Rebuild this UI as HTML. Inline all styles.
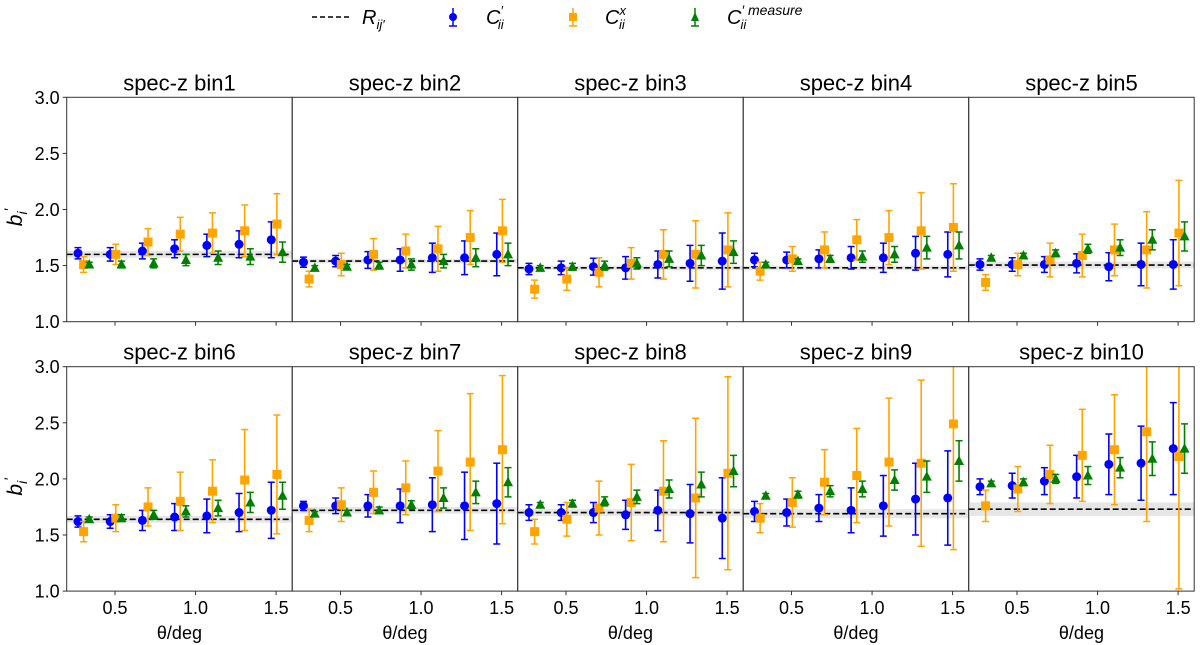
<!DOCTYPE html>
<html><head><meta charset="utf-8"><style>
html,body{margin:0;padding:0;background:#fff;}
svg{display:block;font-family:"Liberation Sans","DejaVu Sans",sans-serif;}
</style></head><body>
<svg id="chart" width="1200" height="645" viewBox="0 0 1200 645" xmlns="http://www.w3.org/2000/svg">
<g id="legend">
 <g>
  <line x1="312" y1="17" x2="349" y2="17" stroke="#000" stroke-width="1.5" stroke-dasharray="5,3"/>
  <text x="362" y="24" font-size="20" font-style="italic">R<tspan font-size="13" dy="5">ij′</tspan></text>
 </g>
 <g>
  <line x1="453" y1="8" x2="453" y2="26" stroke="blue" stroke-width="1.5"/><line x1="449" y1="26" x2="457" y2="26" stroke="blue" stroke-width="1.5"/>
  <circle cx="453" cy="17" r="4" fill="blue"/>
  <text x="486" y="24" font-size="20" font-style="italic">C<tspan font-size="13" dy="-9">′</tspan><tspan font-size="13" dx="-5" dy="14">ii</tspan></text>
 </g>
 <g>
  <line x1="573" y1="8" x2="573" y2="26" stroke="orange" stroke-width="1.5"/><line x1="569" y1="26" x2="577" y2="26" stroke="orange" stroke-width="1.5"/>
  <rect x="569" y="13" width="8" height="8" fill="orange"/>
  <text x="605" y="24" font-size="20" font-style="italic">C<tspan font-size="13" dy="-9">x</tspan><tspan font-size="13" dx="-7" dy="14">ii</tspan></text>
 </g>
 <g>
  <line x1="695" y1="8" x2="695" y2="26" stroke="green" stroke-width="1.5"/><line x1="691" y1="26" x2="699" y2="26" stroke="green" stroke-width="1.5"/>
  <polygon points="695,12 699,21 691,21" fill="green"/>
  <text x="727" y="24" font-size="20" font-style="italic">C<tspan font-size="14" dy="-9">′ measure</tspan><tspan font-size="13" dx="-62" dy="14">ii</tspan></text>
 </g>
</g>
<g id="panels"></g>
</svg>
<script>
const xBlue = [0.27,0.47,0.67,0.87,1.07,1.27,1.47];
const xOffOrange = 0.035;
const xOffGreen = 0.07;
const refVals = [1.60,1.54,1.48,1.48,1.505,1.64,1.72,1.70,1.69,1.73];
const refBand = [0.03,0.02,0.02,0.02,0.03,0.03,0.03,0.03,0.04,0.06];
const blueVals = [
 [1.61,1.60,1.63,1.65,1.68,1.69,1.73],[1.53,1.54,1.55,1.55,1.57,1.57,1.60],[1.47,1.48,1.49,1.48,1.51,1.52,1.54],
 [1.55,1.55,1.56,1.57,1.57,1.61,1.60],[1.51,1.51,1.51,1.52,1.49,1.51,1.51],[1.62,1.62,1.63,1.66,1.67,1.70,1.72],
 [1.76,1.76,1.76,1.76,1.77,1.76,1.78],[1.70,1.70,1.70,1.68,1.72,1.69,1.65],[1.71,1.70,1.74,1.72,1.76,1.82,1.83],
 [1.93,1.94,1.98,2.02,2.13,2.14,2.27]];
const blueErr = [
 [0.05,0.06,0.07,0.08,0.10,0.12,0.16],[0.045,0.05,0.075,0.1,0.13,0.15,0.19],[0.05,0.06,0.075,0.1,0.12,0.16,0.25],
 [0.06,0.07,0.08,0.1,0.13,0.15,0.2],[0.05,0.06,0.07,0.085,0.125,0.19,0.22],[0.05,0.06,0.09,0.12,0.15,0.17,0.25],
 [0.04,0.07,0.1,0.15,0.24,0.3,0.36],[0.07,0.07,0.09,0.13,0.18,0.26,0.36],[0.09,0.12,0.12,0.2,0.27,0.32,0.42],
 [0.07,0.11,0.12,0.19,0.27,0.33,0.41]];
const orangeVals = [
 [1.51,1.60,1.71,1.78,1.79,1.81,1.87],[1.38,1.51,1.60,1.63,1.65,1.75,1.81],[1.29,1.38,1.44,1.52,1.60,1.60,1.64],
 [1.45,1.56,1.64,1.73,1.75,1.81,1.84],[1.35,1.51,1.55,1.59,1.64,1.64,1.79],[1.53,1.65,1.75,1.80,1.89,1.99,2.04],
 [1.63,1.77,1.88,1.92,2.07,2.15,2.26],[1.53,1.64,1.74,1.79,1.89,1.83,2.05],[1.65,1.79,1.97,2.03,2.15,2.14,2.49],
 [1.76,1.91,2.04,2.21,2.26,2.42,2.20]];
const orangeErr = [
 [0.07,0.09,0.12,0.15,0.18,0.23,0.27],[0.07,0.1,0.14,0.15,0.2,0.24,0.28],[0.08,0.1,0.13,0.14,0.22,0.3,0.33],
 [0.08,0.11,0.16,0.18,0.24,0.34,0.39],[0.07,0.1,0.15,0.19,0.23,0.34,0.47],[0.09,0.12,0.17,0.26,0.28,0.45,0.53],
 [0.1,0.15,0.19,0.24,0.36,0.61,0.66],[0.11,0.15,0.24,0.34,0.45,0.71,0.86],[0.13,0.22,0.29,0.42,0.57,0.74,1.12],
 [0.14,0.2,0.26,0.41,0.49,0.8,1.18]];
const greenVals = [
 [1.51,1.51,1.52,1.55,1.57,1.58,1.62],[1.48,1.49,1.50,1.51,1.54,1.57,1.60],[1.48,1.49,1.50,1.52,1.56,1.59,1.62],
 [1.51,1.54,1.56,1.58,1.60,1.66,1.68],[1.57,1.59,1.61,1.65,1.66,1.73,1.76],[1.64,1.65,1.68,1.71,1.74,1.79,1.85],
 [1.69,1.70,1.72,1.77,1.83,1.88,1.97],[1.77,1.78,1.80,1.84,1.91,1.95,2.07],[1.85,1.86,1.89,1.91,1.99,2.02,2.16],
 [1.96,1.97,2.00,2.03,2.10,2.18,2.27]];
const greenErr = [
 [0.02,0.03,0.04,0.05,0.06,0.07,0.09],[0.02,0.02,0.03,0.05,0.06,0.08,0.1],[0.02,0.03,0.04,0.05,0.07,0.09,0.1],
 [0.02,0.02,0.03,0.05,0.07,0.1,0.12],[0.02,0.02,0.03,0.04,0.07,0.09,0.13],[0.02,0.03,0.04,0.05,0.07,0.09,0.12],
 [0.02,0.02,0.03,0.035,0.09,0.1,0.13],[0.02,0.03,0.04,0.06,0.08,0.11,0.14],[0.02,0.03,0.05,0.07,0.09,0.14,0.18],
 [0.02,0.03,0.04,0.08,0.09,0.15,0.22]];
const yTicks = [1.0,1.5,2.0,2.5,3.0];
const yTickLabels = ["1.0","1.5","2.0","2.5","3.0"];
const xTicks = [0.5,1.0,1.5];
const xTickLabels = ["0.5","1.0","1.5"];
const panelTitles = ["spec-z bin1","spec-z bin2","spec-z bin3","spec-z bin4","spec-z bin5","spec-z bin6","spec-z bin7","spec-z bin8","spec-z bin9","spec-z bin10"];

const NS="http://www.w3.org/2000/svg";
const root=document.getElementById('panels');
const left0=66.7, pw=225.5, ph=224.4, tops=[97.3,366.7];
const xmin=0.2,xmax=1.6,ymin=1.0,ymax=3.0;
function mk(tag,attrs,parent){const e=document.createElementNS(NS,tag);for(const k in attrs)e.setAttribute(k,attrs[k]);parent.appendChild(e);return e;}

for(let p=0;p<10;p++){
 const row=Math.floor(p/5), col=p%5;
 const L=left0+col*pw, T=tops[row];
 const X=v=>L+(v-xmin)/(xmax-xmin)*pw;
 const Y=v=>T+(ymax-v)/(ymax-ymin)*ph;
 const g=mk('g',{},root);
 
 
 const clipId='clip'+p;
 const cp=mk('clipPath',{id:clipId},g); mk('rect',{x:L,y:T,width:pw,height:ph},cp);
 const band=mk('rect',{x:L,y:Y(refVals[p]+refBand[p]),width:pw,height:Y(refVals[p]-refBand[p])-Y(refVals[p]+refBand[p]),fill:'#e6e6e6'},g);
 
 
 const rl=mk('line',{x1:L,x2:L+pw,y1:Y(refVals[p]),y2:Y(refVals[p]),stroke:'#000','stroke-width':1.6,'stroke-dasharray':'6,3'},g);
 
 
 const series=[['blue',blueVals[p],blueErr[p],0,'circle'],['orange',orangeVals[p],orangeErr[p],xOffOrange,'square'],['green',greenVals[p],greenErr[p],xOffGreen,'triangle']];
 const sg=mk('g',{'clip-path':'url(#'+clipId+')'},g);
 series.forEach(([c,vals,errs,off,shape])=>{
  vals.forEach((v,i)=>{
   const cx=X(xBlue[i]+off), cy=Y(v), y1=Y(v+errs[i]), y2=Y(v-errs[i]);
   const pg=mk('g',{},sg);
   
   
   mk('line',{x1:cx,x2:cx,y1:y1,y2:y2,stroke:c,'stroke-width':1.6},pg);
   mk('line',{x1:cx-3.5,x2:cx+3.5,y1:y1,y2:y1,stroke:c,'stroke-width':1.5},pg);
   mk('line',{x1:cx-3.5,x2:cx+3.5,y1:y2,y2:y2,stroke:c,'stroke-width':1.5},pg);
   if(shape==='circle') mk('circle',{cx:cx,cy:cy,r:4.5,fill:c},pg);
   else if(shape==='square') mk('rect',{x:cx-4.5,y:cy-4.5,width:9,height:9,fill:c},pg);
   else mk('polygon',{points:`${cx},${cy-5.5} ${cx+5},${cy+4} ${cx-5},${cy+4}`,fill:c},pg);
  });
 });
 const fr=mk('rect',{x:L,y:T,width:pw,height:ph,fill:'none',stroke:'#333','stroke-width':1},g);
 
 
 const tt=mk('text',{x:L+pw/2,y:T-7,'text-anchor':'middle','font-size':22},g);
 
 
 tt.textContent=panelTitles[p];
 xTicks.forEach((t,i)=>{
  mk('line',{x1:X(t),x2:X(t),y1:T+ph,y2:T+ph+4,stroke:'#333','stroke-width':1},g);
  if(row===1){
   const tl=mk('text',{x:X(t),y:T+ph+23,'text-anchor':'middle','font-size':18},g);
   
   
   tl.textContent=xTickLabels[i];
  }
 });
 if(row===1){
  const xl=mk('text',{x:L+pw/2,y:T+ph+48,'text-anchor':'middle','font-size':18},g);
  
  
  xl.textContent='θ/deg';
 }
 if(col===0){
  yTicks.forEach((t,i)=>{
   mk('line',{x1:L-4,x2:L,y1:Y(t),y2:Y(t),stroke:'#333','stroke-width':1},g);
   const yl=mk('text',{x:L-7,y:Y(t)+6.5,'text-anchor':'end','font-size':18},g);
   
   
   yl.textContent=yTickLabels[i];
  });
  const yt=mk('text',{x:0,y:0,'font-size':21,'font-style':'italic',transform:`translate(22,${T+ph/2+8}) rotate(-90)`,'text-anchor':'middle'},g);
  
  
  yt.innerHTML='b<tspan font-size="14" dy="5">i</tspan><tspan font-size="14" dy="-13">′</tspan>';
 }
}
</script>
</body></html>
